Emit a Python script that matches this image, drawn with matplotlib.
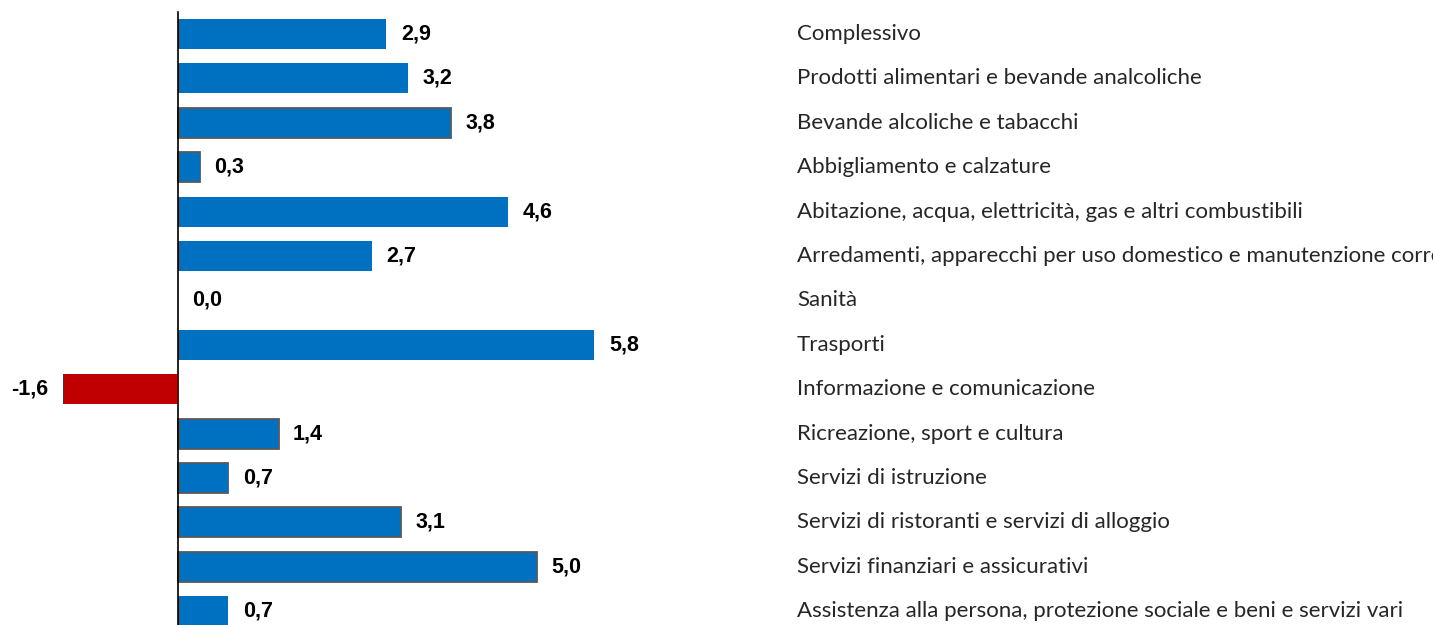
import numpy as np
import matplotlib
matplotlib.use("Agg")
import matplotlib.pyplot as plt

categories = [
    "Complessivo",
    "Prodotti alimentari e bevande analcoliche",
    "Bevande alcoliche e tabacchi",
    "Abbigliamento e calzature",
    "Abitazione, acqua, elettricità, gas e altri combustibili",
    "Arredamenti, apparecchi per uso domestico e manutenzione corrente della casa",
    "Sanità",
    "Trasporti",
    "Informazione e comunicazione",
    "Ricreazione, sport e cultura",
    "Servizi di istruzione",
    "Servizi di ristoranti e servizi di alloggio",
    "Servizi finanziari e assicurativi",
    "Assistenza alla persona, protezione sociale e beni e servizi vari",
]
values = [2.9, 3.2, 3.8, 0.3, 4.6, 2.7, 0.0, 5.8, -1.6, 1.4, 0.7, 3.1, 5.0, 0.7]
outlined = [False, False, True, True, False, False, False, False, False, True, True, True, True, False]

BLUE = "#0070C0"
RED = "#C00000"
EDGE = "#595959"

W, H = 1433, 625
fig = plt.figure(figsize=(W / 100, H / 100), dpi=100)
ax = fig.add_axes([0, 0, 1, 1])

# pixel geometry of the reference
x0_px, px_per_unit = 178, 71.8
y0_px, row_px = 34, 44.4

y = np.arange(len(values))
colors = [RED if v < 0 else BLUE for v in values]
edges = [EDGE if o else "none" for o in outlined]
ax.barh(y, values, height=0.68, color=colors, edgecolor=edges, linewidth=1.3, zorder=2)

ax.set_xlim(-x0_px / px_per_unit, (W - x0_px) / px_per_unit)
ax.set_ylim((H - y0_px) / row_px, -y0_px / row_px)
ax.axis("off")

# vertical zero axis
ax.axvline(0, ymin=0, ymax=1 - 12 / H, color="black", linewidth=1.2, zorder=3)

for yi, v in zip(y, values):
    off = 10.5 if v >= 0 else -11
    ax.annotate(f"{v:.1f}".replace(".", ","), (v, yi), xytext=(off, 0), textcoords="offset points",
                ha="left" if v >= 0 else "right", va="center",
                fontsize=15.5, fontweight="bold", family="Liberation Sans", color="black")

for yi, name in zip(y, categories):
    ax.text(797 / W, yi, name, transform=ax.get_yaxis_transform(), ha="left", va="center",
            fontsize=16, family="Lato", color="#262626")

fig.savefig("out.png", dpi=100)
